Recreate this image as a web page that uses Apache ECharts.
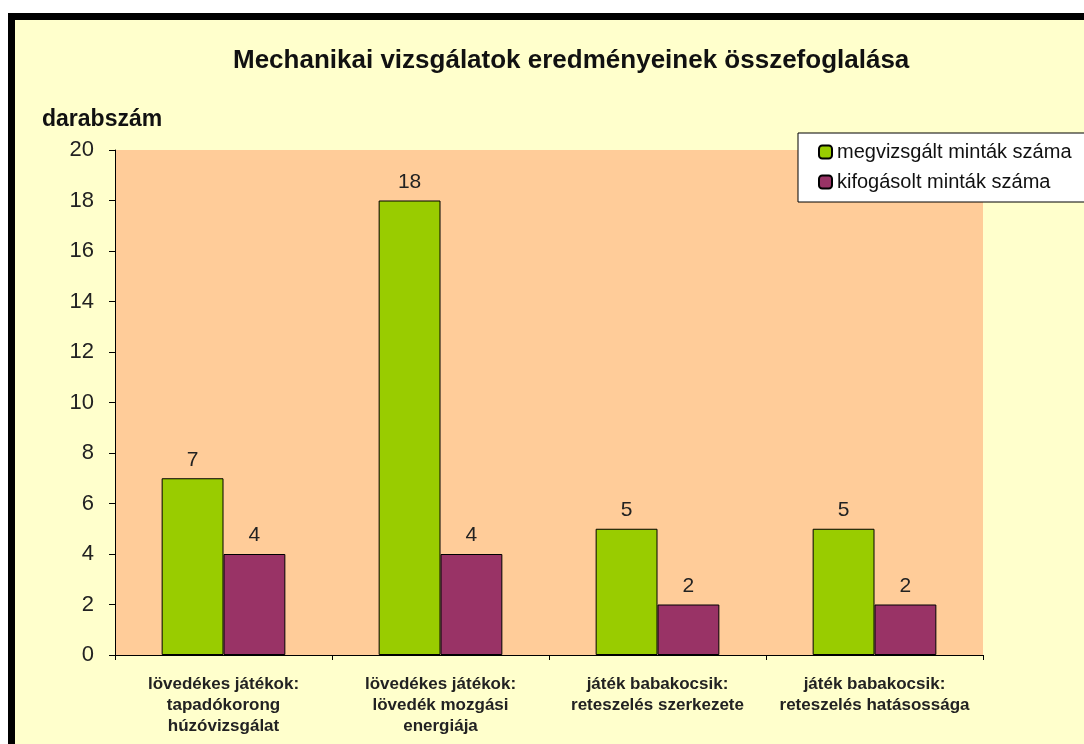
<!DOCTYPE html>
<html>
<head>
<meta charset="utf-8">
<title>Mechanikai vizsgálatok</title>
<script src="https://cdn.jsdelivr.net/npm/echarts@6.0.0/dist/echarts.min.js"></script>
<style>
  html, body { margin: 0; padding: 0; background: #fff; }
  #chart {
    position: absolute;
    left: 8px;
    top: 13px;
    width: 1076px;
    height: 731px;
    box-sizing: border-box;
    border-top: 7px solid #000;
    border-left: 7px solid #000;
    background: #ffffcc;
  }
</style>
</head>
<body>
<div id="chart"></div>
<script>
// data
const categories = [
  'lövedékes játékok:\ntapadókorong\nhúzóvizsgálat',
  'lövedékes játékok:\nlövedék mozgási\nenergiája',
  'játék babakocsik:\nreteszelés szerkezete',
  'játék babakocsik:\nreteszelés hatásossága'
]
const testedName = 'megvizsgált minták száma'
const rejectedName = 'kifogásolt minták száma'
const tested = [7, 18, 5, 5]
const rejected = [4, 4, 2, 2]
const yMin = 0
const yMax = 20
const yStep = 2

const font = 'Arial, "Liberation Sans", sans-serif'

const chartDom = document.getElementById('chart')
const myChart = echarts.init(chartDom)

const barLabel = {
  show: true,
  position: 'top',
  distance: 8,
  color: '#222',
  fontSize: 21,
  fontFamily: font
}

const option = {
  animation: false,
  backgroundColor: '#ffffcc',
  title: [
    {
      text: 'Mechanikai vizsgálatok eredményeinek összefoglalása',
      left: 213,
      top: 23,
      textStyle: { fontSize: 26, fontWeight: 'bold', color: '#111', fontFamily: font }
    },
    {
      text: 'darabszám',
      left: 22,
      top: 83,
      textStyle: { fontSize: 23, fontWeight: 'bold', color: '#111', fontFamily: font }
    }
  ],
  legend: {
    orient: 'vertical',
    left: 783,
    top: 113,
    padding: [9, 20, 10, 20],
    itemGap: 10,
    itemWidth: 13,
    itemHeight: 13,
    backgroundColor: '#fff',
    borderColor: '#000',
    borderWidth: 1,
    borderRadius: 0,
    textStyle: { fontSize: 20, color: '#111', fontFamily: font },
    data: [testedName, rejectedName]
  },
  grid: {
    left: 100,
    top: 130,
    width: 868,
    height: 505,
    show: true,
    backgroundColor: '#ffcc99',
    borderWidth: 0
  },
  xAxis: {
    type: 'category',
    data: categories,
    axisLine: { lineStyle: { color: '#000', width: 1 } },
    axisTick: { show: true, length: 5, alignWithLabel: false, lineStyle: { color: '#000' } },
    axisLabel: {
      interval: 0,
      margin: 19,
      fontSize: 17,
      lineHeight: 21,
      fontWeight: 'bold',
      color: '#222',
      fontFamily: font
    }
  },
  yAxis: {
    type: 'value',
    min: yMin,
    max: yMax,
    interval: yStep,
    axisLine: { show: true, lineStyle: { color: '#000', width: 1 } },
    axisTick: { show: true, length: 6, lineStyle: { color: '#000' } },
    splitLine: { show: false },
    axisLabel: { margin: 21, fontSize: 22, color: '#222', fontFamily: font }
  },
  series: [
    {
      name: testedName,
      type: 'bar',
      barGap: '0%',
      barCategoryGap: '43%',
      itemStyle: { color: '#99cc00', borderColor: '#000', borderWidth: 1 },
      label: barLabel,
      data: tested
    },
    {
      name: rejectedName,
      type: 'bar',
      barGap: '0%',
      barCategoryGap: '43%',
      itemStyle: { color: '#993366', borderColor: '#000', borderWidth: 1 },
      label: barLabel,
      data: rejected
    }
  ]
}

myChart.setOption(option)
</script>
</body>
</html>
